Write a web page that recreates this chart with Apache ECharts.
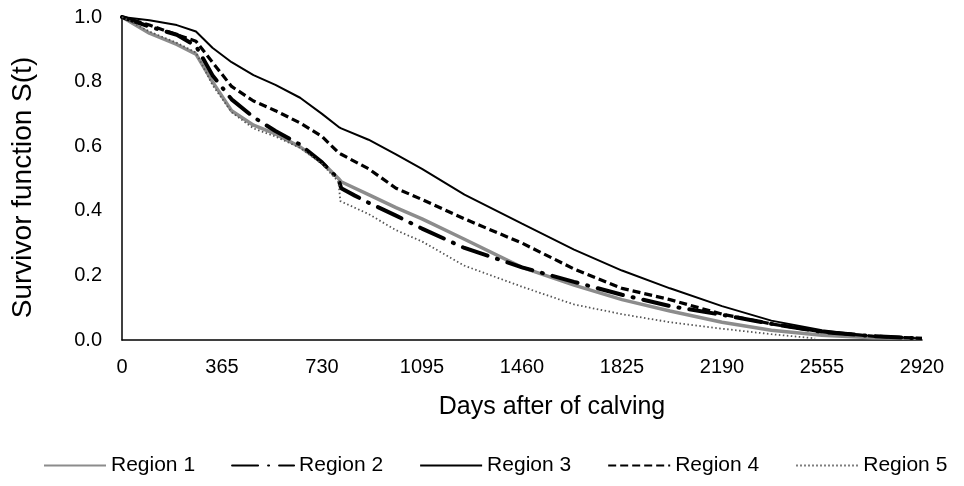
<!DOCTYPE html>
<html>
<head>
<meta charset="utf-8">
<script src="https://cdn.jsdelivr.net/npm/echarts@6/dist/echarts.min.js"></script>
<style>
  html, body { margin: 0; padding: 0; background: #fff; }
  #chart { width: 964px; height: 486px; }
</style>
</head>
<body>
<div id="chart"></div>
<script>
// Kaplan-Meier style survivor curves by region (days after calving vs S(t))
const xTicks = [0, 365, 730, 1095, 1460, 1825, 2190, 2555, 2920];
const yTicks = [0.0, 0.2, 0.4, 0.6, 0.8, 1.0];

const days = [0, 100, 200, 270, 330, 400, 480, 560, 650, 730, 790, 800, 900, 1000, 1095, 1250, 1460, 1650, 1825, 2000, 2190, 2370, 2555, 2740, 2920];

const region1 = [1.0, 0.95, 0.915, 0.885, 0.80, 0.71, 0.665, 0.638, 0.598, 0.55, 0.50, 0.49, 0.45, 0.41, 0.375, 0.312, 0.225, 0.17, 0.125, 0.09, 0.055, 0.03, 0.015, 0.007, 0.005];
const region3 = [1.0, 0.99, 0.975, 0.955, 0.905, 0.86, 0.82, 0.79, 0.75, 0.70, 0.66, 0.655, 0.62, 0.575, 0.53, 0.45, 0.36, 0.28, 0.215, 0.16, 0.105, 0.06, 0.03, 0.012, 0.005];
const region4 = [1.0, 0.975, 0.945, 0.925, 0.86, 0.785, 0.74, 0.71, 0.672, 0.63, 0.58, 0.575, 0.53, 0.47, 0.435, 0.375, 0.30, 0.22, 0.16, 0.125, 0.08, 0.05, 0.025, 0.012, 0.005];

// Region 2 has its own time points around the step near day 800
const days2 = [0, 100, 200, 270, 330, 400, 480, 560, 650, 730, 790, 800, 850, 900, 1000, 1095, 1250, 1460, 1650, 1825, 2000, 2190, 2370, 2555, 2740, 2920];
const region2 = [1.0, 0.97, 0.945, 0.91, 0.82, 0.745, 0.69, 0.647, 0.605, 0.55, 0.498, 0.47, 0.447, 0.425, 0.385, 0.345, 0.285, 0.225, 0.18, 0.14, 0.105, 0.078, 0.05, 0.025, 0.012, 0.005];

// Region 5 drops sharply at ~day 797 and reaches zero before the end
const days5 = [0, 100, 200, 270, 330, 400, 480, 560, 650, 730, 790, 797, 900, 1000, 1095, 1250, 1460, 1650, 1825, 2000, 2190, 2370, 2530];
const region5 = [1.0, 0.955, 0.92, 0.89, 0.79, 0.705, 0.655, 0.63, 0.595, 0.545, 0.49, 0.43, 0.39, 0.34, 0.305, 0.23, 0.165, 0.11, 0.08, 0.055, 0.035, 0.018, 0.005];

const names = ['Region 1', 'Region 2', 'Region 3', 'Region 4', 'Region 5'];

function pairs(xs, ys) { return xs.map((x, i) => [x, ys[i]]); }

const font = 'Liberation Sans, Arial, sans-serif';
const chart = echarts.init(document.getElementById('chart'), null, { renderer: 'canvas' });

chart.setOption({
  animation: false,
  backgroundColor: '#ffffff',
  grid: { left: 122, right: 42, top: 17, bottom: 146, containLabel: false },
  legend: {
    top: 450,
    left: 38,
    width: 926,
    itemWidth: 62,
    itemHeight: 10,
    itemGap: 36,
    itemStyle: { opacity: 0 },
    textStyle: { fontFamily: font, fontSize: 21, color: '#000' },
    data: names
  },
  xAxis: {
    type: 'value',
    min: 0, max: 2920, interval: 365,
    name: 'Days after of calving',
    nameLocation: 'middle',
    nameGap: 55,
    nameTextStyle: { fontFamily: font, fontSize: 25, color: '#000', padding: [0, 0, 0, 60] },
    axisLine: { show: true, onZero: false, lineStyle: { color: '#000', width: 1.5 } },
    axisTick: { show: false },
    splitLine: { show: false },
    axisLabel: { fontFamily: font, fontSize: 20, color: '#000', margin: 17,
      formatter: v => String(v) }
  },
  yAxis: {
    type: 'value',
    min: 0, max: 1, interval: 0.2,
    name: 'Survivor function S(t)',
    nameLocation: 'middle',
    nameGap: 85,
    nameTextStyle: { fontFamily: font, fontSize: 28, color: '#000', padding: [0, 18, 0, 0] },
    axisLine: { show: true, lineStyle: { color: '#000', width: 1.5 } },
    axisTick: { show: false },
    splitLine: { show: false },
    axisLabel: { fontFamily: font, fontSize: 20, color: '#000', margin: 20,
      formatter: v => v.toFixed(1) }
  },
  series: [
    {
      name: 'Region 1', type: 'line', showSymbol: false, symbol: 'none', z: 2,
      data: pairs(days, region1),
      lineStyle: { color: '#8c8c8c', width: 3.5 },
      itemStyle: { color: '#8c8c8c' }
    },
    {
      name: 'Region 2', type: 'line', showSymbol: false, symbol: 'none', z: 3,
      data: pairs(days2, region2),
      lineStyle: { color: '#000', width: 4, type: [26, 10, 1, 10], cap: 'round' },
      itemStyle: { color: '#000' }
    },
    {
      name: 'Region 3', type: 'line', showSymbol: false, symbol: 'none', z: 4,
      data: pairs(days, region3),
      lineStyle: { color: '#000', width: 2 },
      itemStyle: { color: '#000' }
    },
    {
      name: 'Region 4', type: 'line', showSymbol: false, symbol: 'none', z: 4,
      data: pairs(days, region4),
      lineStyle: { color: '#000', width: 3.2, type: [8, 4] },
      itemStyle: { color: '#000' }
    },
    {
      name: 'Region 5', type: 'line', showSymbol: false, symbol: 'none', z: 5,
      data: pairs(days5, region5),
      lineStyle: { color: '#555', width: 1.8, type: [1.5, 2.5] },
      itemStyle: { color: '#555' }
    }
  ]
});
</script>
</body>
</html>
